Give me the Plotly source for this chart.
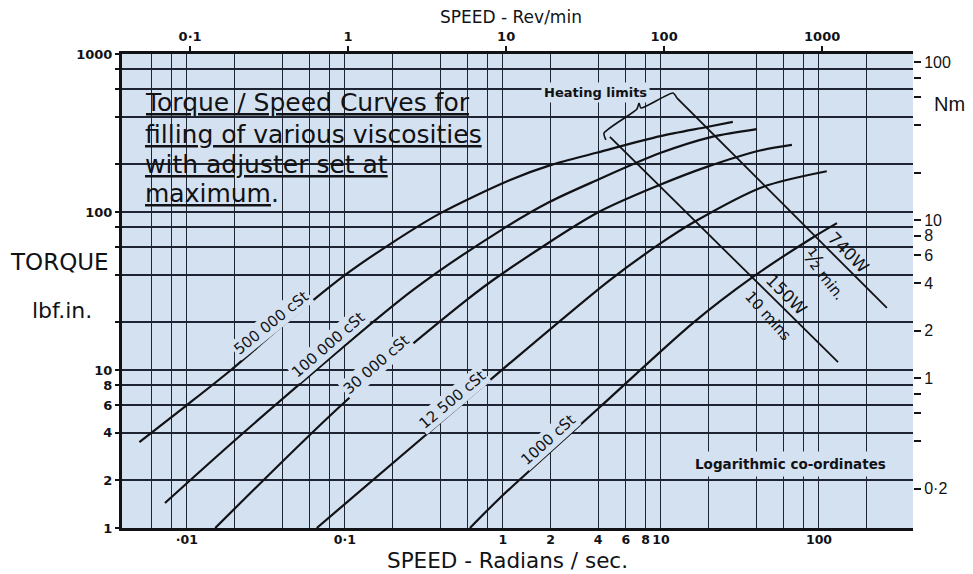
import math
import plotly.graph_objects as go

# ---------------- data ----------------
# speed in rad/s, torque in lbf.in
speed_500k = [0.0050, 0.010, 0.019, 0.040, 0.097, 0.19, 0.40, 1.1, 2.0, 3.9, 9.9, 19.5, 28.5]
torque_500k = [3.5, 6.0, 10, 19, 39, 62, 98, 159, 198, 237, 302, 345, 372]

speed_100k = [0.00726, 0.0251, 0.27, 0.957, 1.98, 3.93, 9.87, 21.3, 40.4]
torque_100k = [1.44, 4.36, 32.1, 76, 116, 159, 236, 300, 335]

speed_30k = [0.0151, 0.103, 0.59, 0.957, 3.93, 9.6, 19.5, 42.3, 67.4]
torque_30k = [1.0, 6.46, 27.8, 39.8, 98.5, 147, 193, 245, 266]

speed_12k5 = [0.0663, 0.59, 1.1, 4.75, 9.87, 16.4, 44.1, 112]
torque_12k5 = [1.0, 6.46, 11.0, 37.1, 63, 87, 144, 181]

speed_1k = [0.618, 0.957, 4.11, 15.9, 38.2, 91.5, 130]
torque_1k = [1.0, 1.55, 5.83, 19.8, 38.8, 69, 85]

heat740_speed = [12.6, 269]
heat740_torque = [527, 24.7]
heat150_speed = [4.75, 132]
heat150_torque = [299, 11.2]

bracket_speed = [4.48, 4.36, 7.05, 7.26, 7.47, 11.9, 12.6]
bracket_torque = [286, 316, 449, 490, 455, 566, 527]

x_grid = [0.006, 0.008, 0.01, 0.02, 0.04, 0.06, 0.08, 0.1, 0.2, 0.4, 0.6, 0.8,
          1, 2, 4, 6, 8, 10, 20, 40, 60, 80, 100, 200]
x_text = ['', '', '·01', '', '', '', '', '0·1', '', '', '', '',
          '1', '2', '4', '6', '8', '10', '', '', '', '', '100', '']
y_grid = [1, 2, 4, 6, 8, 10, 20, 40, 60, 80, 100, 200, 400, 600, 800, 1000]
y_text = ['1', '2', '4', '6', '8', '10', '', '', '', '', '100', '', '', '', '', '1000']
rpm_ticks = [0.1, 1, 10, 100, 1000]
rpm_text = ['0·1', '1', '10', '100', '1000']
nm_ticks = [0.2, 0.4, 0.6, 0.8, 1, 2, 4, 6, 8, 10, 20, 40, 60, 80, 100]
nm_text = ['0·2', '', '', '', '1', '2', '4', '6', '8', '10', '', '', '', '', '100']

# ---------------- styling / geometry ----------------
OFF = 8                      # page body margin of the html output
W, H = 973 - OFF, 574 - OFF
L, R, T, B = 122, 913, 54, 528   # plot area in screen pixels
BG = '#d4e1f0'
INK = '#111216'
GRID = '#1f2433'
FONT = 'DejaVu Sans'
SANS = 'Liberation Sans'

X_LO, X_HI = -2.411, 2.595
RPM_OFF = math.log10(60 / (2 * math.pi))
NM_OFF = math.log10(0.112985)


def px(xp):
    return (xp - L) / (R - L)


def py(yp):
    return (B - yp) / (B - T)


fig = go.Figure()

curves = [(speed_500k, torque_500k), (speed_100k, torque_100k), (speed_30k, torque_30k),
          (speed_12k5, torque_12k5), (speed_1k, torque_1k)]
for sx, sy in curves:
    fig.add_trace(go.Scatter(x=sx, y=sy, mode='lines',
                             line=dict(color=INK, width=2.2, shape='spline', smoothing=0.8),
                             showlegend=False, hoverinfo='skip'))

for sx, sy in [(heat740_speed, heat740_torque), (heat150_speed, heat150_torque)]:
    fig.add_trace(go.Scatter(x=sx, y=sy, mode='lines', line=dict(color=INK, width=1.8),
                             showlegend=False, hoverinfo='skip'))

fig.add_trace(go.Scatter(x=bracket_speed, y=bracket_torque, mode='lines',
                         line=dict(color=INK, width=1.6, shape='spline', smoothing=0.6),
                         showlegend=False, hoverinfo='skip'))

# helper invisible traces so the secondary axes render
fig.add_trace(go.Scatter(x=rpm_ticks, y=[10] * len(rpm_ticks), xaxis='x2', yaxis='y',
                         mode='markers', marker=dict(opacity=0), showlegend=False, hoverinfo='skip'))
fig.add_trace(go.Scatter(x=[1, 1], y=[1, 10], xaxis='x', yaxis='y2',
                         mode='markers', marker=dict(opacity=0), showlegend=False, hoverinfo='skip'))

fig.update_layout(
    width=W, height=H,
    margin=dict(l=L - OFF, r=W - (R - OFF), t=T - OFF, b=H - (B - OFF), autoexpand=False),
    paper_bgcolor='white', plot_bgcolor=BG,
    font=dict(family=FONT, color=INK),
    xaxis=dict(type='log', range=[X_LO, X_HI], tickvals=x_grid,
               ticktext=['<b>%s</b>' % t if t else '' for t in x_text], tickangle=0,
               ticklabelstandoff=-2,
               showgrid=True, gridcolor=GRID, gridwidth=1.3, automargin=False,
               showline=True, linecolor=INK, linewidth=3, ticks='',
               tickfont=dict(size=12.5, family=FONT, color=INK), zeroline=False),
    yaxis=dict(type='log', range=[0, 3], tickvals=y_grid,
               ticktext=['<b>%s</b>' % t if t else '' for t in y_text], tickangle=0,
               showgrid=True, gridcolor=GRID, gridwidth=1.8, automargin=False,
               showline=True, linecolor=INK, linewidth=3,
               ticks='outside', ticklen=4, tickwidth=1.5, tickcolor=INK,
               tickfont=dict(size=13, family=FONT, color=INK), zeroline=False),
    xaxis2=dict(type='log', overlaying='x', side='top', automargin=False,
                range=[X_LO + RPM_OFF, X_HI + RPM_OFF], tickvals=rpm_ticks,
                ticktext=['<b>%s</b>' % t for t in rpm_text], tickangle=0,
                showgrid=False, showline=True, linecolor=INK, linewidth=3,
                ticks='outside', ticklen=5, tickwidth=1.5, tickcolor=INK,
                tickfont=dict(size=13, family=FONT, color=INK), zeroline=False),
    yaxis2=dict(type='log', overlaying='y', side='right', automargin=False,
                range=[NM_OFF, 3 + NM_OFF], tickvals=nm_ticks, ticktext=nm_text, tickangle=0,
                showgrid=False, showline=False,
                ticks='outside', ticklen=7, tickwidth=1.5, tickcolor=INK,
                tickfont=dict(size=16, family=SANS, color=INK), zeroline=False),
)

# background patches that interrupt the grid (drawn between grid and traces)
covers = [
    (123.5, 80, 492, 158),
    (123.5, 150, 415, 185),
    (123.5, 185, 262, 218),
    (603, 72, 668, 137),
    (532, 84, 690, 97),
]
for x0, y0, x1, y1 in covers:
    fig.add_shape(type='rect', xref='paper', yref='paper',
                  x0=px(x0), x1=px(x1), y0=py(y1), y1=py(y0),
                  fillcolor=BG, line=dict(width=0), layer='between')


def ann(text, xp, yp, size, angle=0, bg=None, anchor='center', bold=False, pad=1, family=FONT):
    t = '<b>%s</b>' % text if bold else text
    kw = dict(text=t, xref='paper', yref='paper', x=px(xp), y=py(yp), showarrow=False,
              textangle=angle, xanchor=anchor, yanchor='middle',
              font=dict(size=size, family=family, color=INK))
    if bg:
        kw.update(bgcolor=bg, borderpad=pad)
    fig.add_annotation(**kw)


# title block
ann('<u>Torque / Speed Curves for</u>', 143, 103, 25, anchor='left')
ann('<u>filling of various viscosities</u>', 143, 134, 25, anchor='left')
ann('<u>with adjuster set at</u>', 143, 164, 25, anchor='left')
ann('<u>maximum</u>.', 143, 194, 25, anchor='left')

# axis titles
ann('SPEED - Radians / sec.', 507, 560, 21.5)
ann('SPEED - Rev/min', 511, 17, 17)
ann('TORQUE', 59, 262, 23)
ann('lbf.in.', 62, 311, 22)
ann('Nm', 949, 104, 20, family=SANS)

# notes
ann('Heating limits', 595, 92, 13, bold=True, bg=BG, pad=2)
ann('Logarithmic co-ordinates', 790, 464, 13.5, bold=True, bg=BG, pad=4)

# curve labels
ann('500 000 cSt', 271, 323, 15, angle=-39, bg=BG)
ann('100 000 cSt', 328, 345, 15, angle=-41, bg=BG)
ann('30 000 cSt', 376, 365, 15, angle=-41, bg=BG)
ann('12 500 cSt', 452, 400, 15, angle=-40, bg=BG)
ann('1000 cSt', 548, 440, 15, angle=-42, bg=BG)
ann('740W', 848, 252, 17, angle=45)
ann('<span style="font-size:21px">½</span> min.', 825, 274, 15, angle=52)
ann('150W', 786, 294, 17, angle=45)
ann('10 mins', 768, 316, 15, angle=48)

fig.write_html('out.html')
